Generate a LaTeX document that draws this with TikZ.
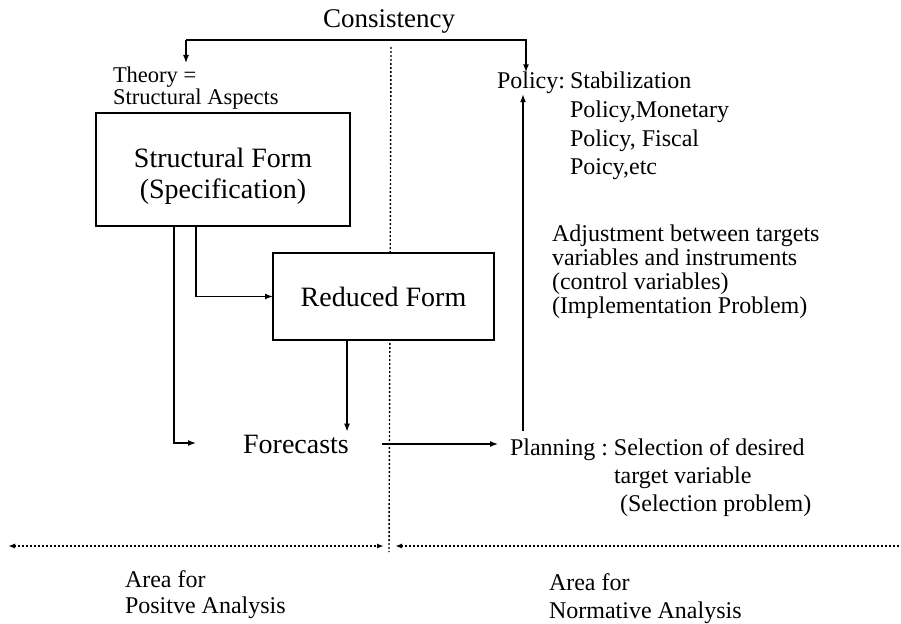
\documentclass[tikz,border=0pt]{standalone}
\usepackage{fontspec}
\setmainfont{Liberation Serif}
\usetikzlibrary{arrows.meta}

\tikzset{
  every node/.style={inner sep=0pt, outer sep=0pt},
  formbox/.style={draw, line width=1.5pt, fill=white},
  link/.style={line width=1.4pt, -{Latex[length=8pt,width=6pt]}},
  divider/.style={line width=1.4pt, dash pattern=on 2pt off 2pt},
  bigtext/.style={font=\fontsize{28}{31}\selectfont},
  midtext/.style={font=\fontsize{24}{28}\selectfont},
  rangetip/.tip={Latex[length=7pt,width=5pt]},
}

\begin{document}
\begin{tikzpicture}[x=1pt, y=-1pt]
\useasboundingbox (0,0) rectangle (901,623);

% dotted divider between positive and normative sides
\coordinate (dtop) at (391,47);
\coordinate (dbot) at (389,552);
\draw[divider] (dtop) -- (dbot);

% dotted range arrows
\coordinate (lleft) at (8,546);
\coordinate (lright) at (384,546);
\coordinate (rleft) at (395,546);
\coordinate (rright) at (901,546);
\draw[divider, rangetip-rangetip] (lleft) -- (lright);
\draw[divider, rangetip-] (rleft) -- (rright);

% title
\node[anchor=base, font=\fontsize{27}{30}\selectfont] (cons) at (389,28) {Consistency};

% left column
\node[anchor=base west, font=\fontsize{22.5}{20}\selectfont] (theory) at (113,83)
  {\begin{tabular}[t]{@{}l@{}}Theory =\\ Structural Aspects\end{tabular}};

\node[formbox, minimum width=254pt, minimum height=113pt] (sf) at (223,169.5) {};
\node[bigtext, align=center] (sftext) at ([yshift=-7pt]sf.center)
  {Structural Form\\(Specification)};

\node[formbox, bigtext, minimum width=221pt, minimum height=87pt] (rf) at (383.5,296.5)
  {Reduced Form};

\node[anchor=base, bigtext, inner sep=3pt] (fc) at (296,453) {Forecasts};

% right column
\node[anchor=base west, midtext] (policy) at (497,89) {Policy:};
\node[anchor=base west, midtext] (poltext) at (570,89)
  {\fontsize{24}{28.5}\selectfont\begin{tabular}[t]{@{}l@{}}Stabilization\\ Policy,Monetary\\ Policy, Fiscal\\ Poicy,etc\end{tabular}};

\node[anchor=base west, midtext] (adj) at (552,241)
  {\fontsize{24}{24}\selectfont\begin{tabular}[t]{@{}l@{}}Adjustment between targets\\ variables and instruments\\ (control variables)\\ (Implementation Problem)\end{tabular}};

\node[anchor=base west, midtext] (plan) at (510,455) {Planning};
\node[anchor=base west, midtext] (plansel) at (plan.base east)
  {\fontsize{24}{28}\selectfont\ :\ \begin{tabular}[t]{@{}l@{}}Selection of desired\\ target variable\\ \ (Selection problem)\end{tabular}};

% bottom labels
\node[anchor=base west, midtext] (pos) at (125,587)
  {\fontsize{24}{26}\selectfont\begin{tabular}[t]{@{}l@{}}Area for\\ Positve Analysis\end{tabular}};
\node[anchor=base west, midtext] (norm) at (549,590)
  {\fontsize{24}{28}\selectfont\begin{tabular}[t]{@{}l@{}}Area for\\ Normative Analysis\end{tabular}};

% connectors
\coordinate (topl) at (186,40);
\coordinate (topr) at (526,40);
\coordinate (theoryin) at (186,63);
\coordinate (polx) at (523,0);
\draw[link] (topl) -- (theoryin);
\draw[link] (topl) -- (topr) -- (topr |- policy.north);

\coordinate (fcin) at (196,443);
\draw[link] ([xshift=78pt]sf.south west) |- (fcin);
\draw[link] ([xshift=100pt]sf.south west) |- (rf.west);
\draw[link] ([xshift=74pt]rf.south west) -- ([xshift=74pt]rf.south west |- fc.north);
\coordinate (fcout) at (382,444);
\coordinate (planin) at (498,444);
\draw[link] (fcout) -- (planin);
\draw[link] ([yshift=7pt]polx |- plan.north) -- (polx |- policy.south);
\end{tikzpicture}
\end{document}
